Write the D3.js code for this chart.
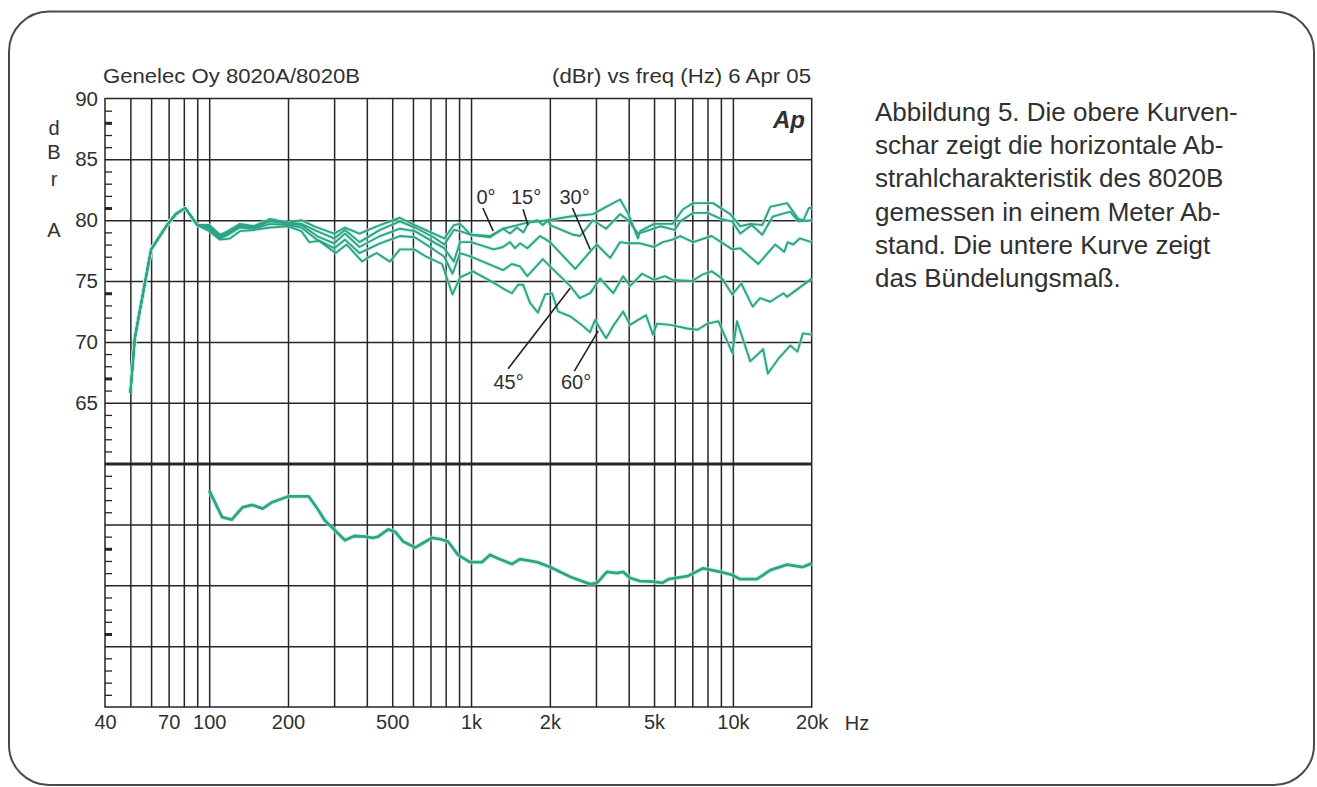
<!DOCTYPE html>
<html lang="de">
<head>
<meta charset="utf-8">
<title>Genelec 8020</title>
<script src="https://cdn.jsdelivr.net/npm/d3@7"></script>
<style>
  html, body { margin: 0; padding: 0; background: #fff; }
  svg { display: block; font-family: "Liberation Sans", Arial, sans-serif; }
  text { fill: #303030; }
</style>
</head>
<body>
<svg id="chart" width="1317" height="787"></svg>
<script>
// frequency grid and tick labels
const gridFreqs = [50, 60, 70, 80, 90, 100, 200, 300, 400, 500, 600, 700, 800, 900, 1000, 2000, 3000, 4000, 5000, 6000, 7000, 8000, 9000, 10000];
const freqLabelled = [40, 70, 100, 200, 500, 1000, 2000, 5000, 10000, 20000];
const freqText = ["40", "70", "100", "200", "500", "1k", "2k", "5k", "10k", "20k"];
const dbGrid = [45, 50, 55, 60, 65, 70, 75, 80, 85];
const dbLabelled = [65, 70, 75, 80, 85, 90];
const dbMinor = [89, 88, 87, 86, 84, 83, 82, 81, 79, 78, 77, 76, 74, 73, 72, 71, 69, 68, 67, 66, 64, 63, 62, 61, 59, 58, 57, 56, 54, 53, 52, 51, 49, 48, 47, 46, 44, 43, 42, 41];
const dbMinorBold = [88, 81, 74, 67, 53, 46];

// rising part below 100 Hz, one line for all angles
const lowEnd = [[50, 65.8], [52, 70.3], [56, 74.1], [60, 77.6], [69, 79.6], [74.5, 80.5], [81, 81], [90, 79.6]];

const curve0 = [[100, 79.6], [110, 78.8], [118, 79.1], [131, 79.7], [148, 79.5], [171, 80.1], [200, 79.8], [225, 80], [252, 79.5], [300, 78.9], [330, 79.4], [375, 78.9], [449, 79.6], [535, 80.2], [610, 79.6], [720, 78.9], [790, 78.5], [860, 79.6], [908, 79.7], [1000, 78.8], [1182, 78.7], [1325, 79.3], [1640, 79.8], [1970, 80], [2390, 80.3], [2925, 80.5], [3280, 81.1], [3711, 81.7], [3990, 80.5], [4340, 78.5], [4425, 79.1], [5000, 79.7], [5880, 79.7], [6450, 80.9], [7050, 81.4], [8400, 81.4], [9770, 80.5], [10670, 79.5], [11650, 79.7], [12950, 79.6], [13890, 81.1], [16100, 81.4], [17800, 80.1], [18600, 80], [19500, 81], [20000, 81]];

const curve15 = [[100, 79.5], [110, 78.7], [118, 79], [131, 79.6], [148, 79.5], [171, 80], [200, 79.8], [225, 79.7], [258, 79.1], [300, 78.5], [330, 79.2], [375, 78.2], [449, 79.2], [535, 79.9], [610, 79.4], [720, 78.6], [790, 78], [860, 79.2], [908, 79.1], [1000, 78.8], [1182, 78.6], [1325, 79.3], [1409, 78.9], [1498, 79.4], [1585, 79], [1660, 79.8], [1790, 80], [1880, 79.6], [1970, 80], [2004, 79.6], [2460, 78.8], [2610, 78.7], [2925, 80], [3280, 79.3], [3711, 80.5], [3990, 80], [4340, 78.9], [4660, 79.1], [5280, 79.5], [6000, 79.2], [6290, 79.9], [7050, 80.6], [8000, 80.6], [9000, 80.1], [9950, 79.9], [10670, 78.9], [11800, 79.6], [12950, 78.8], [14200, 80.3], [16560, 80.7], [17800, 79.9], [20000, 80]];

const curve30 = [[100, 79.4], [110, 78.6], [118, 78.9], [131, 79.5], [148, 79.4], [171, 79.9], [200, 79.7], [225, 79.6], [258, 78.7], [300, 78.1], [330, 78.9], [375, 77.8], [449, 78.7], [535, 79.3], [610, 79.1], [720, 78.2], [790, 77.7], [860, 76.6], [908, 78.2], [1000, 78.2], [1220, 77.6], [1325, 77.8], [1409, 78.2], [1470, 77.7], [1539, 78.1], [1640, 77.7], [1835, 78.7], [2004, 78.2], [2500, 76], [2900, 77.6], [3020, 78], [3400, 76.9], [3711, 78.2], [3990, 78.1], [4425, 78.1], [5000, 77.8], [5400, 78.2], [5880, 78.4], [6290, 78.7], [7050, 78.2], [8300, 78.7], [9950, 77.6], [10670, 77.7], [12500, 76.4], [14500, 78], [15700, 77.4], [16200, 78.2], [17000, 78], [18000, 78.5], [20000, 78.2]];

const curve45 = [[100, 79.3], [110, 78.5], [118, 78.8], [131, 79.4], [148, 79.3], [171, 79.7], [200, 79.6], [225, 79.4], [258, 78.4], [300, 77.7], [330, 78.4], [375, 77.3], [449, 78.1], [535, 78.7], [610, 78.6], [720, 77.6], [790, 77], [850, 75.6], [908, 77.3], [1000, 77], [1325, 75.9], [1433, 76.4], [1539, 76.2], [1640, 75.4], [1880, 76.8], [2004, 76.2], [2390, 74.6], [2600, 73.6], [2850, 74], [3112, 75.2], [3490, 74], [3810, 75.4], [4050, 74.6], [4500, 75.6], [5000, 75.1], [5500, 75.4], [5880, 75.1], [7000, 75], [7600, 75.5], [8300, 75.8], [9100, 75.2], [9950, 73.9], [10770, 74.8], [11900, 72.9], [12700, 73.6], [13890, 73.3], [15600, 74], [16100, 73.7], [20000, 75.2]];

const curve60 = [[100, 79.1], [110, 78.4], [120, 78.5], [131, 79.1], [148, 79.2], [171, 79.4], [200, 79.5], [225, 79.1], [241, 78.2], [263, 78.3], [304, 77.3], [335, 78], [384, 76.6], [402, 76.9], [436, 77.3], [490, 76.6], [535, 77.6], [607, 77.6], [675, 77], [775, 76.4], [850, 73.9], [908, 75.3], [1018, 75.8], [1257, 74.7], [1348, 74.3], [1433, 74], [1513, 74.7], [1580, 74.7], [1680, 73.2], [1800, 72.4], [1920, 73.9], [2040, 74], [2150, 72.5], [2390, 72.1], [2610, 71.5], [2850, 70.8], [2975, 71.8], [3110, 71.1], [3280, 70.3], [3490, 71.3], [3810, 72.5], [4050, 71.4], [4660, 72.2], [4950, 70.6], [5130, 71.5], [5760, 71.4], [6700, 71.1], [7330, 71], [8000, 71.5], [8800, 71.7], [9950, 69.1], [10370, 71.7], [11650, 68.4], [13050, 69.4], [13600, 67.4], [14900, 68.6], [16560, 69.7], [17650, 69.2], [18500, 70.7], [20000, 70.6]];

// directivity index, the lower curve
const directivity = [[100, 57.8], [112, 55.6], [122, 55.4], [134, 56.4], [146, 56.6], [160, 56.3], [173, 56.8], [200, 57.3], [240, 57.3], [258, 56.35], [277, 55.3], [296, 54.7], [330, 53.7], [358, 54.05], [393, 54], [423, 53.9], [442, 54], [482, 54.6], [513, 54.4], [550, 53.6], [612, 53.1], [710, 53.9], [761, 53.8], [817, 53.6], [892, 52.5], [990, 51.9], [1100, 51.9], [1182, 52.5], [1268, 52.2], [1433, 51.75], [1539, 52.15], [1790, 51.9], [2004, 51.5], [2390, 50.7], [2850, 50.1], [3030, 50.2], [3300, 51.1], [3610, 51], [3810, 51.1], [4050, 50.6], [4425, 50.35], [4960, 50.3], [5380, 50.2], [5680, 50.5], [6700, 50.75], [7700, 51.4], [8945, 51.1], [9950, 50.85], [10670, 50.5], [12350, 50.5], [13890, 51.25], [16100, 51.7], [18500, 51.5], [20000, 51.8]];

// angle labels with their leader lines, in Hz and dB
const angleNames = ["0°", "15°", "30°", "45°", "60°"];
const angleLabelFreq = [1141, 1622, 2486, 1391, 2520];
const angleLabelDb = [81.3, 81.3, 81.3, 66.1, 66.1];
const leaderFrom = [[1110, 81], [1580, 80.9], [2440, 81], [1385, 67.8], [2480, 67.6]];
const leaderTo = [[1215, 79.1], [1650, 79.6], [2850, 77.6], [2390, 74.4], [3060, 70.9]];

const noteLines = [
  "Abbildung 5. Die obere Kurven-",
  "schar zeigt die horizontale Ab-",
  "strahlcharakteristik des 8020B",
  "gemessen in einem Meter Ab-",
  "stand. Die untere Kurve zeigt",
  "das Bündelungsmaß."
];

const yAxisLetters = ["d", "B", "r", "A"];
const yAxisLetterDb = [87, 85, 82.85, 78.6];

const svg = d3.select("#chart");

// rounded frame around everything
svg.append("rect")
  .attr("x", 9).attr("y", 11.5)
  .attr("width", 1305).attr("height", 773.5)
  .attr("rx", 40).attr("ry", 40)
  .attr("fill", "#fff")
  .attr("stroke", "#4a4a4a")
  .attr("stroke-width", 2);

const plotLeft = 105, plotRight = 811.7, plotTop = 98.5, plotBottom = 707;

const x = d3.scaleLog().domain([40, 20000]).range([plotLeft, plotRight]);
const y = d3.scaleLinear().domain([40, 90]).range([plotBottom, plotTop]);

const plotW = plotRight - plotLeft, plotH = plotBottom - plotTop;

// vertical grid
const xGrid = svg.append("g")
  .attr("transform", `translate(0,${plotBottom})`)
  .call(d3.axisBottom(x).tickValues(gridFreqs).tickSize(-plotH).tickFormat(""));
xGrid.select(".domain").remove();
xGrid.selectAll("line").attr("stroke", "#262626").attr("stroke-width", 1.5);

// horizontal grid
const yGrid = svg.append("g")
  .attr("transform", `translate(${plotLeft},0)`)
  .call(d3.axisLeft(y).tickValues(dbGrid).tickSize(-plotW).tickFormat(""));
yGrid.select(".domain").remove();
yGrid.selectAll("line")
  .attr("stroke", "#262626")
  .attr("stroke-width", d => d === 60 ? 3 : 1.5);

// short ticks every dB
const yMinor = svg.append("g")
  .attr("transform", `translate(${plotLeft},0)`)
  .call(d3.axisLeft(y).tickValues(dbMinor).tickSize(-7).tickFormat(""));
yMinor.select(".domain").remove();
yMinor.selectAll("line")
  .attr("stroke", "#262626")
  .attr("stroke-width", d => dbMinorBold.includes(d) ? 3 : 1.3);

// plot border
svg.append("rect")
  .attr("x", plotLeft).attr("y", plotTop)
  .attr("width", plotW).attr("height", plotH)
  .attr("fill", "none")
  .attr("stroke", "#262626")
  .attr("stroke-width", 1.5);

// y labels
const yLabels = svg.append("g")
  .attr("transform", `translate(${plotLeft},0)`)
  .call(d3.axisLeft(y).tickValues(dbLabelled).tickSize(0).tickPadding(7));
yLabels.select(".domain").remove();
yLabels.selectAll("text")
  .attr("font-size", 20.5)
  .attr("font-family", "Liberation Sans")
  .style("fill", "#303030");

// x labels
const xLabels = svg.append("g")
  .attr("transform", `translate(0,${plotBottom})`)
  .call(d3.axisBottom(x).tickValues(freqLabelled).tickSize(0).tickPadding(8)
    .tickFormat(d => freqText[freqLabelled.indexOf(d)]));
xLabels.select(".domain").remove();
xLabels.selectAll("text")
  .attr("font-size", 20)
  .attr("font-family", "Liberation Sans")
  .style("fill", "#303030");

svg.append("text")
  .attr("x", plotRight + 33).attr("y", 730)
  .attr("font-size", 20)
  .text("Hz");

// curves
const line = d3.line().x(d => x(d[0])).y(d => y(d[1]));
const upperCurves = [curve0, curve15, curve30, curve45, curve60].map(c => lowEnd.concat(c));

svg.append("g").selectAll("path")
  .data(upperCurves.concat([directivity]))
  .join("path")
  .attr("d", line)
  .attr("fill", "none")
  .attr("stroke", "#b5ecdc")
  .attr("stroke-opacity", 0.55)
  .attr("stroke-width", (d, i) => i === 5 ? 5 : 4)
  .attr("stroke-linejoin", "round");

svg.append("g").selectAll("path")
  .data(upperCurves.concat([directivity]))
  .join("path")
  .attr("d", line)
  .attr("fill", "none")
  .attr("stroke", "#2fa386")
  .attr("stroke-width", (d, i) => i === 5 ? 2.8 : 1.9)
  .attr("stroke-linejoin", "round");

// leaders
svg.append("g").selectAll("line")
  .data(angleNames)
  .join("line")
  .attr("x1", (d, i) => x(leaderFrom[i][0]))
  .attr("y1", (d, i) => y(leaderFrom[i][1]))
  .attr("x2", (d, i) => x(leaderTo[i][0]))
  .attr("y2", (d, i) => y(leaderTo[i][1]))
  .attr("stroke", "#222")
  .attr("stroke-width", 1.6);

svg.append("g").selectAll("text")
  .data(angleNames)
  .join("text")
  .attr("x", (d, i) => x(angleLabelFreq[i]))
  .attr("y", (d, i) => y(angleLabelDb[i]))
  .attr("text-anchor", "middle")
  .attr("font-size", 20)
  .text(d => d);

// titles
svg.append("text")
  .attr("x", 103).attr("y", 83)
  .attr("font-size", 21)
  .attr("textLength", 257)
  .attr("lengthAdjust", "spacingAndGlyphs")
  .text("Genelec Oy 8020A/8020B");

svg.append("text")
  .attr("x", 552).attr("y", 83)
  .attr("font-size", 21)
  .attr("textLength", 259)
  .attr("lengthAdjust", "spacingAndGlyphs")
  .text("(dBr) vs freq (Hz) 6 Apr 05");

svg.append("text")
  .attr("x", 805).attr("y", 128)
  .attr("text-anchor", "end")
  .attr("font-size", 24)
  .attr("font-weight", "bold")
  .attr("font-style", "italic")
  .text("Ap");

// dBr A letters
svg.append("g").selectAll("text")
  .data(yAxisLetters)
  .join("text")
  .attr("x", 54)
  .attr("y", (d, i) => y(yAxisLetterDb[i]))
  .attr("text-anchor", "middle")
  .attr("font-size", 20)
  .text(d => d);

// caption on the right
svg.append("g").selectAll("text")
  .data(noteLines)
  .join("text")
  .attr("x", 875)
  .attr("y", (d, i) => 121 + i * 33.2)
  .attr("font-size", 26)
  .attr("fill", "#222")
  .text(d => d);
</script>
</body>
</html>
